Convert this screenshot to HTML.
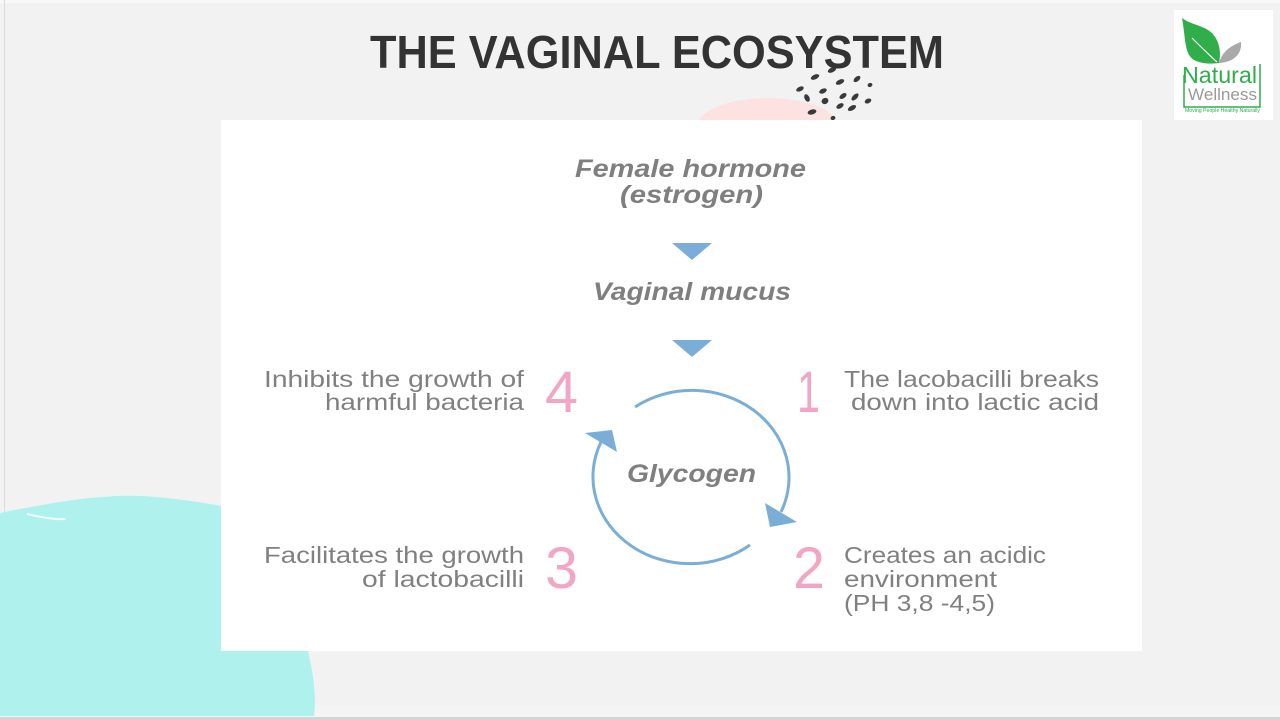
<!DOCTYPE html>
<html>
<head>
<meta charset="utf-8">
<style>
html,body{margin:0;padding:0;background:#f2f2f2;}
body{width:1280px;height:720px;overflow:hidden;}
svg{display:block;}
</style>
</head>
<body>
<svg width="1280" height="720" viewBox="0 0 1280 720" xmlns="http://www.w3.org/2000/svg">
  <!-- background -->
  <rect x="0" y="0" width="1280" height="720" fill="#f2f2f2"/>
  <rect x="0" y="0" width="1280" height="3" fill="#f8f8f8"/>
  <rect x="4" y="0" width="1" height="716" fill="#dcdcdc"/>
  <rect x="0" y="705" width="1280" height="12" fill="#f4f4f4"/>
  <rect x="0" y="717" width="1280" height="3" fill="#d4d4d4"/>

  <!-- teal blob -->
  <path d="M0,513 C40,505 95,494 140,496 C180,498 210,504 226,507 L226,651 L308,651 C312,670 317,692 314,716 L0,716 Z" fill="#aff1ec"/>
  <path d="M27,514 C40,517 55,520 66,519" stroke="#ffffff" stroke-width="2" fill="none" opacity="0.8"/>

  <!-- pink blob -->
  <ellipse cx="768" cy="128" rx="72" ry="30" fill="#fde2e2"/>

  <!-- dots -->
  <g fill="#3a3a3a">
    <ellipse cx="832" cy="70" rx="4.5" ry="2.3" transform="rotate(-25 832 70)"/>
    <ellipse cx="815" cy="77" rx="4.5" ry="2.3" transform="rotate(-25 815 77)"/>
    <ellipse cx="840" cy="82" rx="4.5" ry="2.3" transform="rotate(-25 840 82)"/>
    <ellipse cx="857" cy="79" rx="4" ry="2.3" transform="rotate(-40 857 79)"/>
    <ellipse cx="870" cy="85" rx="2.5" ry="2" transform="rotate(-25 870 85)"/>
    <ellipse cx="800" cy="89" rx="4" ry="2.2" transform="rotate(-25 800 89)"/>
    <ellipse cx="823" cy="91" rx="4" ry="2.3" transform="rotate(-25 823 91)"/>
    <ellipse cx="807" cy="98" rx="2.5" ry="4" transform="rotate(-25 807 98)"/>
    <ellipse cx="843" cy="96" rx="4" ry="2.3" transform="rotate(-35 843 96)"/>
    <ellipse cx="855" cy="97" rx="4.5" ry="2.3" transform="rotate(-45 855 97)"/>
    <ellipse cx="825" cy="101" rx="3.5" ry="3" transform="rotate(-25 825 101)"/>
    <ellipse cx="868" cy="101" rx="3.5" ry="2.3" transform="rotate(-25 868 101)"/>
    <ellipse cx="840" cy="106" rx="4" ry="2.3" transform="rotate(-30 840 106)"/>
    <ellipse cx="852" cy="108" rx="4.5" ry="2.3" transform="rotate(-30 852 108)"/>
    <ellipse cx="812" cy="112" rx="4.5" ry="2.5" transform="rotate(-15 812 112)"/>
    <ellipse cx="833" cy="118" rx="2.5" ry="2" transform="rotate(-25 833 118)"/>
  </g>

  <!-- title -->
  <text x="370" y="68" font-family="Liberation Sans, sans-serif" font-weight="bold" font-size="46" fill="#333333" textLength="574" lengthAdjust="spacingAndGlyphs">THE VAGINAL ECOSYSTEM</text>

  <!-- card -->
  <rect x="221" y="120" width="921" height="531" fill="#ffffff"/>

  <!-- top labels -->
  <g font-family="Liberation Sans, sans-serif" font-weight="bold" font-style="italic" fill="#7f7f7f" font-size="25">
    <text x="575" y="177" textLength="231" lengthAdjust="spacingAndGlyphs">Female hormone</text>
    <text x="620" y="203" textLength="143" lengthAdjust="spacingAndGlyphs">(estrogen)</text>
    <text x="593" y="300" textLength="198" lengthAdjust="spacingAndGlyphs">Vaginal mucus</text>
    <text x="627" y="482" textLength="129" lengthAdjust="spacingAndGlyphs">Glycogen</text>
  </g>

  <!-- down triangles -->
  <polygon points="672,243 712,243 692,260" fill="#7aaed8"/>
  <polygon points="672,340 712,340 692,357" fill="#7aaed8"/>

  <!-- cycle arcs -->
  <g fill="none" stroke="#7aaed6" stroke-width="3">
    <path d="M635,407 A97 87 0 0 1 781,512"/>
    <path d="M750,545 A97 87 0 0 1 601,442"/>
  </g>
  <polygon points="765,503 797,522 770,527" fill="#7aaed6"/>
  <polygon points="585,433 612,430 617,452" fill="#7aaed6"/>

  <!-- side texts -->
  <g font-family="Liberation Sans, sans-serif" fill="#808080" font-size="23.5">
    <text x="524" y="387" text-anchor="end" textLength="260" lengthAdjust="spacingAndGlyphs">Inhibits the growth of</text>
    <text x="524" y="410" text-anchor="end" textLength="199" lengthAdjust="spacingAndGlyphs">harmful bacteria</text>
    <text x="524" y="563" text-anchor="end" textLength="260" lengthAdjust="spacingAndGlyphs">Facilitates the growth</text>
    <text x="524" y="587" text-anchor="end" textLength="162" lengthAdjust="spacingAndGlyphs">of lactobacilli</text>
    <text x="844" y="387" textLength="255" lengthAdjust="spacingAndGlyphs">The lacobacilli breaks</text>
    <text x="851" y="410" textLength="248" lengthAdjust="spacingAndGlyphs">down into lactic acid</text>
    <text x="844" y="563" textLength="202" lengthAdjust="spacingAndGlyphs">Creates an acidic</text>
    <text x="844" y="587" textLength="153" lengthAdjust="spacingAndGlyphs">environment</text>
    <text x="844" y="611" textLength="151" lengthAdjust="spacingAndGlyphs">(PH 3,8 -4,5)</text>
  </g>

  <!-- numbers -->
  <g font-family="Liberation Sans, sans-serif" fill="#f2a6c6" font-size="58">
    <text x="545" y="412" textLength="33" lengthAdjust="spacingAndGlyphs">4</text>
    <text x="797" y="412" textLength="23" lengthAdjust="spacingAndGlyphs">1</text>
    <text x="545" y="588" textLength="33" lengthAdjust="spacingAndGlyphs">3</text>
    <text x="793" y="588" textLength="32" lengthAdjust="spacingAndGlyphs">2</text>
  </g>

  <!-- logo -->
  <rect x="1174" y="10" width="99" height="110" fill="#ffffff"/>
  <path d="M1182,18 C1186,40 1184,56 1196,61 C1204,64 1212,64 1219,63 C1222,50 1218,36 1208,30 C1200,25 1190,24 1182,18 Z" fill="#2fae4a"/>
  <path d="M1192,38 C1200,46 1208,54 1217,62" stroke="#ffffff" stroke-width="1.2" fill="none"/>
  <path d="M1219,63 C1222,52 1230,46 1241,42 C1242,52 1236,62 1219,63 Z" fill="#a9a9a9"/>
  <path d="M1184,75 L1184,107 L1260,107 L1260,64" stroke="#2fae4a" stroke-width="1.5" fill="none"/>
  <text x="1182" y="83" font-family="Liberation Sans, sans-serif" font-size="23" fill="#2fae4a" textLength="75" lengthAdjust="spacingAndGlyphs">Natural</text>
  <text x="1188" y="100" font-family="Liberation Sans, sans-serif" font-size="17" fill="#999999" textLength="69" lengthAdjust="spacingAndGlyphs">Wellness</text>
  <text x="1185" y="112" font-family="Liberation Sans, sans-serif" font-size="5" fill="#2fae4a" textLength="75" lengthAdjust="spacingAndGlyphs">Moving People Healthy Naturally</text>
</svg>
</body>
</html>
